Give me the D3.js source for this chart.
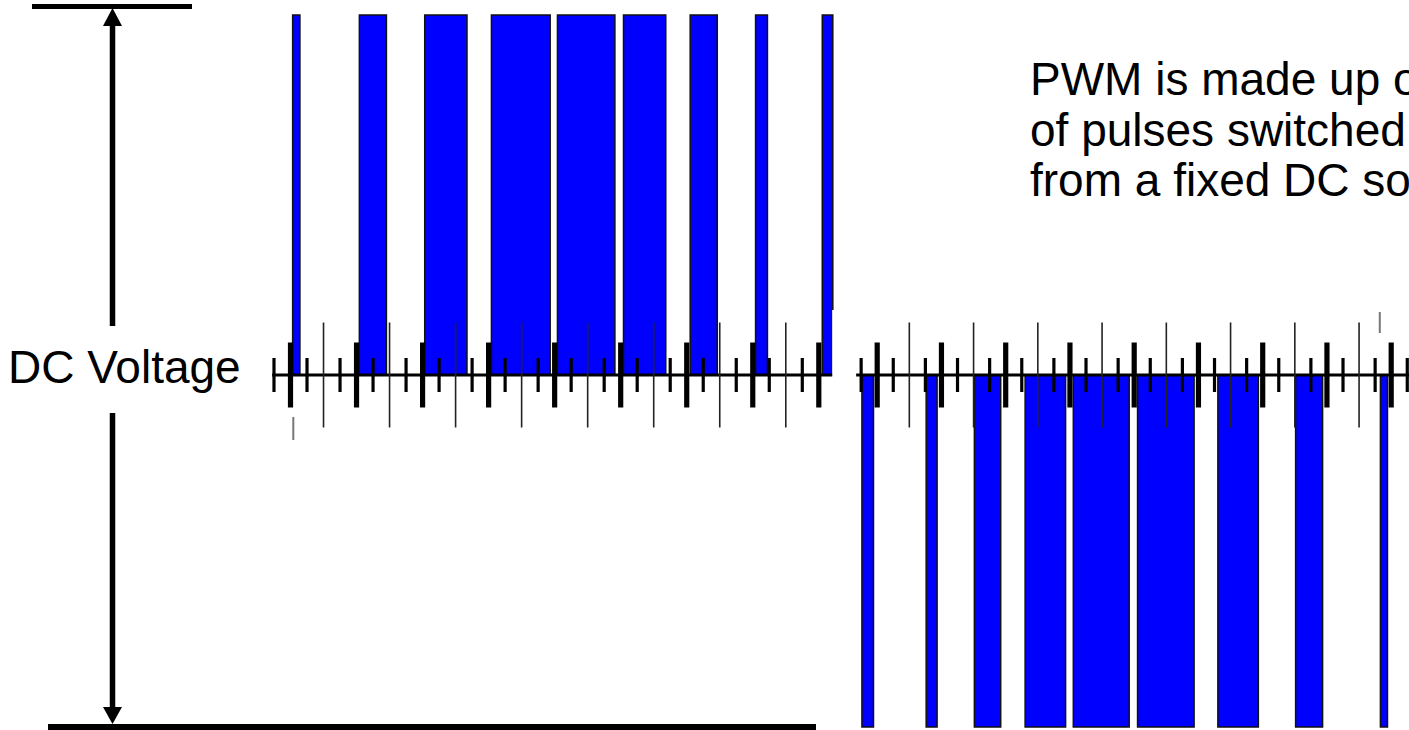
<!DOCTYPE html>
<html><head><meta charset="utf-8">
<script src="https://cdn.jsdelivr.net/npm/d3@7/dist/d3.min.js"></script>
<style>html,body{margin:0;padding:0;background:#fff;overflow:hidden}</style>
</head><body><svg id="c" width="1409" height="730"></svg>
<script>
// ---- data (time in switching periods, voltage normalised to DC level) ----
const topPulseStart    = [0.04, 1.05, 2.04, 3.05, 4.05, 5.05, 6.06, 7.05, 8.06];
const topPulseEnd      = [0.15, 1.46, 2.68, 3.94, 4.92, 5.69, 6.47, 7.23, 8.22];
const bottomPulseStart = [-0.23, 0.77, 1.52, 2.31, 3.06, 4.06, 5.31, 6.52, 7.84];
const bottomPulseEnd   = [-0.05, 0.94, 1.93, 2.94, 3.93, 4.94, 5.94, 6.94, 7.95];
const topLevel = 1;
const bottomLevel = -1;
const majorTicks = [0, 1, 2, 3, 4, 5, 6, 7, 8];
const midTicks = [0.5, 1.5, 2.5, 3.5, 4.5, 5.5, 6.5, 7.5];
const topMinorTicks = [-0.25, 0.25, 0.75, 1.25, 1.75, 2.25, 2.75, 3.25, 3.75, 4.25, 4.75, 5.25, 5.75, 6.25, 6.75, 7.25, 7.75];
const bottomMinorTicks = [-0.25, 0.25, 0.75, 1.25, 1.75, 2.25, 2.75, 3.25, 3.75, 4.25, 4.75, 5.25, 5.75, 6.25, 6.75, 7.25, 7.75, 8.25];
const topAxisDomain = [-0.27, 8.21];
const bottomAxisDomain = [-0.32, 8.3];
const leftLabel = "DC Voltage";
const noteLines = ["PWM is made up o", "of pulses switched", "from a fixed DC so"];

// ---- scales ----
const svg = d3.select("#c");
const xTop = d3.scaleLinear().domain([0, 8]).range([290, 818.3]);
const xBot = d3.scaleLinear().domain([0, 8]).range([876.7, 1390.7]);
const y = d3.scaleLinear().domain([-1, 0, 1]).range([727, 375, 15]);
const BLUE = "#0000ff";

// ---- pulses ----
const topPulses = topPulseStart.map((s, i) => ({s, e: topPulseEnd[i], v: topLevel}));
const botPulses = bottomPulseStart.map((s, i) => ({s, e: bottomPulseEnd[i], v: bottomLevel}));

svg.append("g").selectAll("rect").data(topPulses).join("rect")
  .attr("x", d => xTop(d.s)).attr("width", d => xTop(d.e) - xTop(d.s))
  .attr("y", d => y(d.v)).attr("height", d => y(0) - y(d.v))
  .attr("fill", BLUE).attr("stroke", "#111").attr("stroke-width", 1.5);

// white mask where the upper trace was cut off
svg.append("rect").attr("x", xTop(8.21)).attr("y", 310).attr("width", 22).attr("height", 130).attr("fill", "#fff");

svg.append("g").selectAll("rect").data(botPulses).join("rect")
  .attr("x", d => xBot(d.s)).attr("width", d => xBot(d.e) - xBot(d.s))
  .attr("y", y(0)).attr("height", d => y(d.v) - y(0))
  .attr("fill", BLUE).attr("stroke", "#111").attr("stroke-width", 1.5);

// ---- time axes with centred ticks ----
function tickAxis(scale, values, size, width, color) {
  const g = svg.append("g")
    .attr("transform", `translate(0,${y(0) - size / 2})`)
    .call(d3.axisBottom(scale).tickValues(values).tickSize(size).tickFormat(""));
  g.select(".domain").remove();
  g.selectAll("line").attr("stroke", color).attr("stroke-width", width);
}
function axisLine(scale, dom) {
  svg.append("line").attr("x1", scale(dom[0])).attr("x2", scale(dom[1]))
    .attr("y1", y(0)).attr("y2", y(0)).attr("stroke", "#000").attr("stroke-width", 3);
}
axisLine(xTop, topAxisDomain);
axisLine(xBot, bottomAxisDomain);
[[xTop, topMinorTicks], [xBot, bottomMinorTicks]].forEach(([sc, minor]) => {
  tickAxis(sc, midTicks, 105, 1.6, "#222");
  tickAxis(sc, minor, 34, 3.2, "#000");
  tickAxis(sc, majorTicks, 65, 5.2, "#000");
});
// small remnants of the edges
svg.append("line").attr("x1", xTop(0.05)).attr("x2", xTop(0.05)).attr("y1", 417).attr("y2", 440)
  .attr("stroke", "#777").attr("stroke-width", 2);
svg.append("line").attr("x1", xBot(7.83)).attr("x2", xBot(7.83)).attr("y1", 312).attr("y2", 333)
  .attr("stroke", "#777").attr("stroke-width", 2);

// ---- DC voltage dimension arrow ----
const ax = 112.5;
svg.append("line").attr("x1", 32).attr("x2", 192).attr("y1", 6.5).attr("y2", 6.5).attr("stroke", "#000").attr("stroke-width", 5);
svg.append("line").attr("x1", 48).attr("x2", 816).attr("y1", 727).attr("y2", 727).attr("stroke", "#000").attr("stroke-width", 6);
svg.append("line").attr("x1", ax).attr("x2", ax).attr("y1", 22).attr("y2", 326).attr("stroke", "#000").attr("stroke-width", 5.5);
svg.append("line").attr("x1", ax).attr("x2", ax).attr("y1", 413).attr("y2", 710).attr("stroke", "#000").attr("stroke-width", 5.5);
svg.append("path").attr("d", `M${ax},8 L${ax - 9.5},26 L${ax + 9.5},26 Z`).attr("fill", "#000");
svg.append("path").attr("d", `M${ax},724 L${ax - 9.5},707 L${ax + 9.5},707 Z`).attr("fill", "#000");

svg.append("text").attr("x", 8).attr("y", 383)
  .attr("font-family", "'Liberation Sans', Arial, sans-serif").attr("font-size", 46)
  .attr("fill", "#000").text(leftLabel);

svg.append("g").selectAll("text").data(noteLines).join("text")
  .attr("x", 1030).attr("y", (d, i) => 95 + i * 50.5)
  .attr("font-family", "'Liberation Sans', Arial, sans-serif").attr("font-size", 46)
  .attr("fill", "#000").text(d => d);
</script></body></html>
